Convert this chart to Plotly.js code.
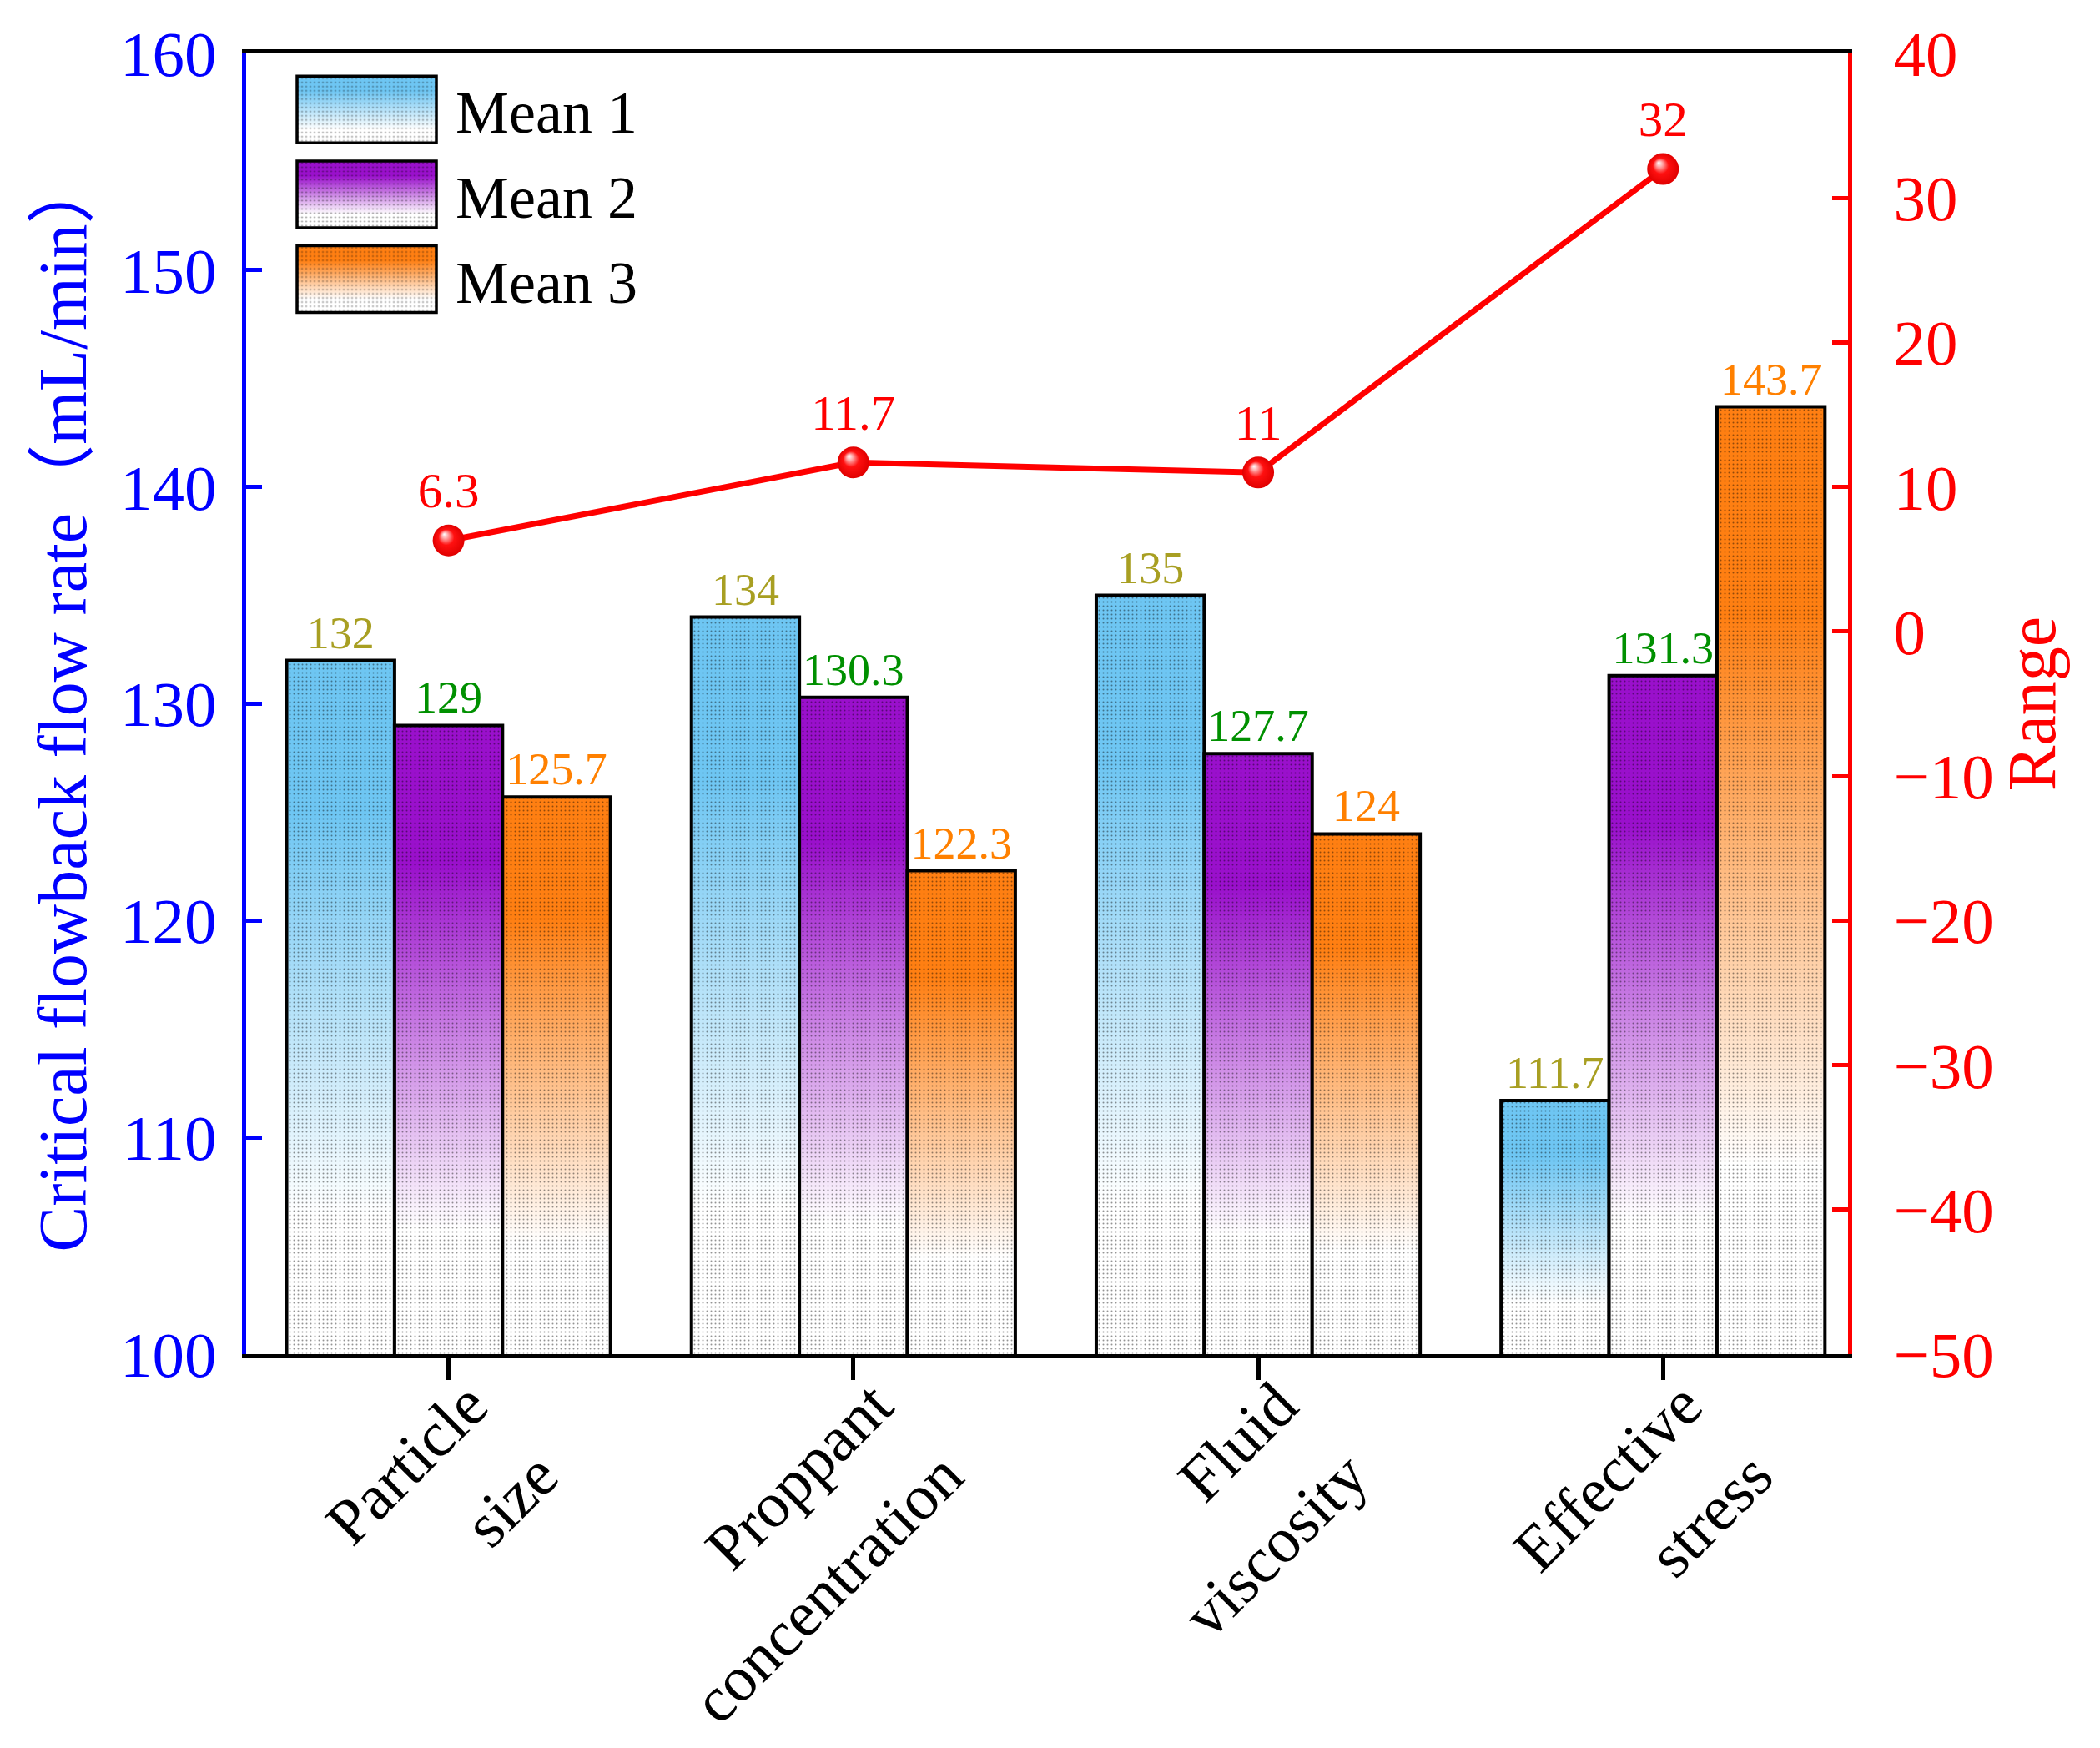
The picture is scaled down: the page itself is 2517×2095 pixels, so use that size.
<!DOCTYPE html>
<html><head><meta charset="utf-8">
<script src="https://cdn.plot.ly/plotly-3.0.1.min.js"></script>
<style>html,body{margin:0;padding:0;background:#fff;} #chart{width:2517px;height:2095px;}</style>
</head><body><div id="chart"></div>
<script>
// ---- data ----
const categories = ['Particle<br>size', 'Proppant<br>concentration', 'Fluid<br>viscosity', 'Effective<br>stress'];
const seriesNames = ['Mean 1', 'Mean 2', 'Mean 3'];
const mean1 = [132, 134, 135, 111.7];
const mean2 = [129, 130.3, 127.7, 131.3];
const mean3 = [125.7, 122.3, 124, 143.7];
const rangeVals = [6.3, 11.7, 11, 32];
const yTicks = [100, 110, 120, 130, 140, 150, 160];
const y2Ticks = [-50, -40, -30, -20, -10, 0, 10, 20, 30, 40];
const yTitle = 'Critical flowback flow rate（mL/min）';
const y2Title = 'Range';

// ---- style ----
const FONT = 'Liberation Serif, "Times New Roman", "Noto Sans CJK SC", serif';
const barColors = ['#6EC6F3', '#9A10CC', '#FF7F12'];
const labelColors = ['#A89F22', '#009000', '#FF8000'];

function barTrace(vals, idx) {
  return {
    type: 'bar', x: categories, y: vals, name: seriesNames[idx], legendgroup: 'g' + idx,
    marker: { color: barColors[idx], line: { color: '#000', width: 4 } },
    texttemplate: '%{y}', textposition: 'outside', constraintext: 'none', cliponaxis: false,
    outsidetextfont: { family: FONT, size: 54, color: labelColors[idx] },
    hoverinfo: 'skip'
  };
}

const traces = [
  barTrace(mean1, 0), barTrace(mean2, 1), barTrace(mean3, 2),
  {
    type: 'scatter', x: categories, y: rangeVals, yaxis: 'y2', mode: 'lines+markers+text',
    texttemplate: '%{y}', textposition: 'top center', cliponaxis: false,
    textfont: { family: FONT, size: 59, color: '#FF0000' },
    line: { color: '#FF0000', width: 7 },
    marker: { size: 38, color: '#FF0000' },
    showlegend: false, hoverinfo: 'skip'
  }
];

const layout = {
  width: 2517, height: 2095,
  margin: { l: 295, r: 302, t: 64, b: 472 },
  paper_bgcolor: '#fff', plot_bgcolor: 'rgba(0,0,0,0)',
  font: { family: FONT },
  barmode: 'group', bargap: 0.2, bargroupgap: 0,
  showlegend: true,
  legend: {
    x: 0.0198, y: 0.991, xanchor: 'left', yanchor: 'top',
    font: { family: FONT, size: 72, color: '#000' },
    itemwidth: 203, tracegroupgap: 5, bgcolor: 'rgba(0,0,0,0)', borderwidth: 0
  },
  xaxis: {
    type: 'category', range: [-0.5, 3.457],
    showline: true, linecolor: '#000', linewidth: 5, mirror: true,
    ticks: 'outside', ticklen: 26, tickwidth: 5, tickcolor: '#000',
    tickangle: -45, tickfont: { family: FONT, size: 77, color: '#000' },
    ticklabelstandoff: -46, ticklabelshift: 24,
    showgrid: false, zeroline: false
  },
  yaxis: {
    range: [100, 160], tickvals: yTicks, ticks: 'inside', ticklen: 19, tickwidth: 5, tickcolor: '#0000FF',
    showline: true, linecolor: '#0000FF', linewidth: 5,
    tickfont: { family: FONT, size: 77, color: '#0000FF' }, ticklabelstandoff: 15,
    title: { text: yTitle, font: { family: FONT, size: 82, color: '#0000FF' }, standoff: 15 },
    showgrid: false, zeroline: false
  },
  yaxis2: {
    overlaying: 'y', side: 'right', range: [-50, 40], tickvals: y2Ticks,
    ticks: 'inside', ticklen: 19, tickwidth: 5, tickcolor: '#FF0000',
    showline: true, linecolor: '#FF0000', linewidth: 5,
    tickfont: { family: FONT, size: 77, color: '#FF0000' }, ticklabelstandoff: 34,
    title: { text: y2Title, font: { family: FONT, size: 82, color: '#FF0000' }, standoff: 10 },
    showgrid: false, zeroline: false
  }
};

const gd = document.getElementById('chart');
Plotly.newPlot(gd, traces, layout, { staticPlot: true }).then(() => {
  decorate();
  setTimeout(decorate, 200);
  setTimeout(decorate, 800);
});

const ns = 'http://www.w3.org/2000/svg';
function el(tag, attrs, parent) {
  const e = document.createElementNS(ns, tag);
  for (const k in attrs) e.setAttribute(k, attrs[k]);
  if (parent) parent.appendChild(e);
  return e;
}
function addStops(g, c) {
  el('stop', { offset: 0, 'stop-color': c }, g);
  el('stop', { offset: 0.22, 'stop-color': c }, g);
  el('stop', { offset: 0.8, 'stop-color': '#ffffff' }, g);
  el('stop', { offset: 1, 'stop-color': '#ffffff' }, g);
}
function decorate() {
  const svg = gd.querySelector('svg.main-svg');
  let defs = svg.querySelector('defs');
  if (!defs) { defs = document.createElementNS(ns, 'defs'); svg.insertBefore(defs, svg.firstChild); }
  if (!document.getElementById('dotpat')) {
    const pat = el('pattern', { id: 'dotpat', patternUnits: 'userSpaceOnUse', width: 5, height: 5 }, defs);
    el('circle', { cx: 2.5, cy: 2.5, r: 1.0, fill: '#000', 'fill-opacity': 0.42 }, pat);
    const rg = el('radialGradient', { id: 'ball', cx: 0.5, cy: 0.5, r: 0.5, fx: 0.36, fy: 0.3 }, defs);
    el('stop', { offset: 0, 'stop-color': '#ffffff' }, rg);
    el('stop', { offset: 0.18, 'stop-color': '#ffb0b0' }, rg);
    el('stop', { offset: 0.5, 'stop-color': '#ff1010' }, rg);
    el('stop', { offset: 1, 'stop-color': '#e00000' }, rg);
    barColors.forEach((c, i) => {
      const g = el('linearGradient', { id: 'lg' + i, x1: 0, x2: 0, y1: 0, y2: 1 }, defs);
      addStops(g, c);
    });
  }
  const plotH = gd._fullLayout._size.h;
  gd.querySelectorAll('.barlayer .trace').forEach((tr, i) => {
    tr.querySelectorAll('.point path').forEach((p, j) => {
      if (p.getAttribute('data-deco')) return;
      const bb = p.getBBox();
      const id = 'bg' + i + '_' + j;
      let g = document.getElementById(id);
      if (g) g.remove();
      g = el('linearGradient', { id: id, gradientUnits: 'userSpaceOnUse', x1: 0, x2: 0, y1: bb.y, y2: Math.min(bb.y + bb.height, plotH) }, defs);
      addStops(g, barColors[i]);
      p.style.fill = 'url(#' + id + ')';
      p.setAttribute('data-deco', '1');
      const c = p.cloneNode(true);
      c.style.fill = 'url(#dotpat)'; c.style.stroke = 'none';
      p.parentNode.insertBefore(c, p.nextSibling);
    });
  });
  // legend swatches
  gd.querySelectorAll('.legend .traces').forEach((t, i) => {
    const p = t.querySelector('.legendpoints path');
    if (!p || p.getAttribute('data-deco')) return;
    p.setAttribute('d', 'M83.5,40H-83.5V-40H83.5Z');
    p.style.fill = 'url(#lg' + i + ')';
    p.style.stroke = '#000'; p.style.strokeWidth = '3.5px';
    p.setAttribute('data-deco', '1');
    const c = p.cloneNode(true);
    c.style.fill = 'url(#dotpat)'; c.style.stroke = 'none';
    p.parentNode.insertBefore(c, p.nextSibling);
  });
  // glossy ball markers
  gd.querySelectorAll('.scatterlayer .point').forEach(p => { p.style.fill = 'url(#ball)'; });
  // wider line spacing in x tick labels
  gd.querySelectorAll('.xtick text tspan.line').forEach((t) => {
    const dy = t.getAttribute('dy');
    if (dy && parseFloat(dy) > 0) t.setAttribute('dy', '1.55em');
  });
}
</script>
</body></html>
